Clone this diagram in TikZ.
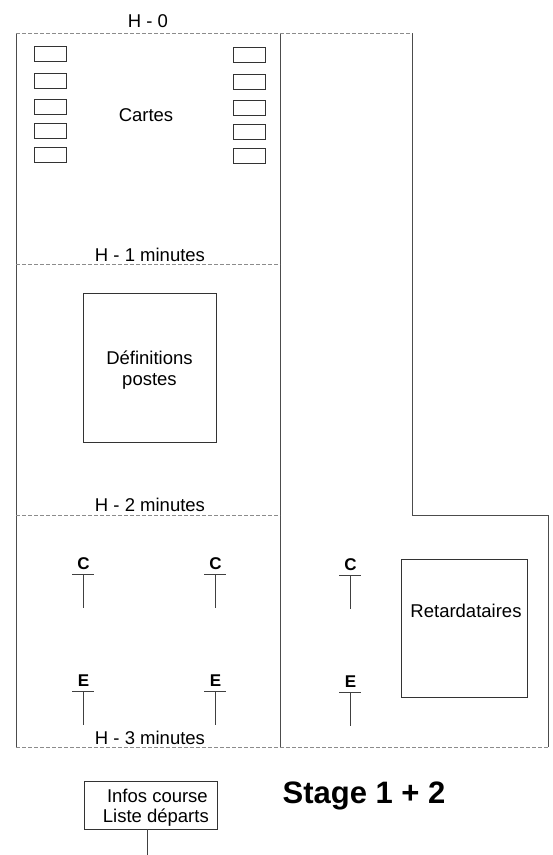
\documentclass[tikz,border=0pt]{standalone}
\usepackage{fontspec}
\setmainfont{Liberation Sans}
\usetikzlibrary{positioning}

\begin{document}
\begin{tikzpicture}[x=1pt, y=-1pt,
  zone/.style={draw=black!70, line width=1pt},
  limit/.style={draw=black!45, line width=0.7pt, dash pattern=on 4pt off 2pt},
  card/.style={draw=black!80, line width=0.9pt, minimum width=32pt, minimum height=15pt, inner sep=0pt},
  area/.style={draw=black!80, line width=0.9pt, inner sep=0pt},
  txt/.style={font=\fontsize{18.5}{21}\selectfont, anchor=base, inner sep=0pt},
  posttxt/.style={font=\fontsize{17}{18}\selectfont\bfseries, anchor=base, inner sep=0pt},
  post/.style={draw=black!75, line width=0.9pt}]
  \useasboundingbox (0,0) rectangle (553,855);

  % outline of the start zone
  \coordinate (nw) at (16,33);
  \coordinate (nm) at (280,33);
  \coordinate (ne) at (412,33);
  \coordinate (step) at (412,515);
  \coordinate (stepr) at (548,515);
  \coordinate (se) at (548,747);
  \coordinate (sm) at (280,747);
  \coordinate (sw) at (16,747);
  \coordinate (w1) at (16,264);
  \coordinate (m1) at (280,264);
  \coordinate (w2) at (16,515);
  \coordinate (m2) at (280,515);
  \draw[zone] (nw) -- (sw);
  \draw[zone] (nm) -- (sm);
  \draw[zone] (ne) -- (step) -- (stepr) -- (se);
  \draw[limit] (nw) -- (ne);
  \draw[limit] (sw) -- (se);
  \draw[limit] (w1) -- (m1);
  \draw[limit] (w2) -- (m2);

  % time labels
  \node[txt] (h0) at (148,27) {H - 0};
  \node[txt] (h1) at (150,261) {H - 1 minutes};
  \node[txt] (h2) at (150,511) {H - 2 minutes};
  \node[txt] (h3) at (150,744) {H - 3 minutes};

  % cards
  \foreach \i/\yl/\yr in {1/53.5/54.5, 2/80.5/81.5, 3/106.5/107.5, 4/130.5/131.5, 5/154.5/155.5} {
    \node[card] (cardl\i) at (50,\yl) {};
    \node[card] (cardr\i) at (249.5,\yr) {};
  }
  \node[txt] (cartes) at (146,121) {Cartes};

  % definitions
  \node[area, minimum width=133pt, minimum height=149pt] (defs) at (149.5,367.5) {};
  \node[txt] (defs1) at (149.5,364) {Définitions};
  \node[txt] (defs2) at (149.5,385) {postes};

  % late starters
  \node[area, minimum width=126pt, minimum height=138pt] (retard) at (464,628) {};
  \node[txt] (retardtxt) at (466,617) {Retardataires};

  % posts C and E
  \foreach \px/\py/\ltr/\nm in {83/574/C/c1, 215/574/C/c2, 350/575/C/c3, 83/691/E/e1, 215/691/E/e2, 350/692/E/e3} {
    \node[posttxt] (\nm) at (\px+0.5,\py-5) {\ltr};
    \coordinate (\nm top) at (\px,\py);
    \coordinate (\nm foot) at (\px,\py+34);
    \draw[post] ([xshift=-11pt]\nm top) -- ([xshift=11pt]\nm top);
    \draw[post] (\nm top) -- (\nm foot);
  }

  % title
  \node[font=\fontsize{31}{34}\selectfont\bfseries, anchor=base, inner sep=0pt] (stage) at (364,803) {Stage 1 + 2};

  % race info
  \node[area, minimum width=133pt, minimum height=48pt] (infos) at (150.5,805) {};
  \node[txt, anchor=base east] (infos1) at (208,802) {Infos course};
  \node[txt, anchor=base east] (infos2) at (209,822) {Liste départs};
  \coordinate (infoend) at (147.5,855);
  \draw[post] (infoend |- infos.south) -- (infoend);
\end{tikzpicture}
\end{document}
